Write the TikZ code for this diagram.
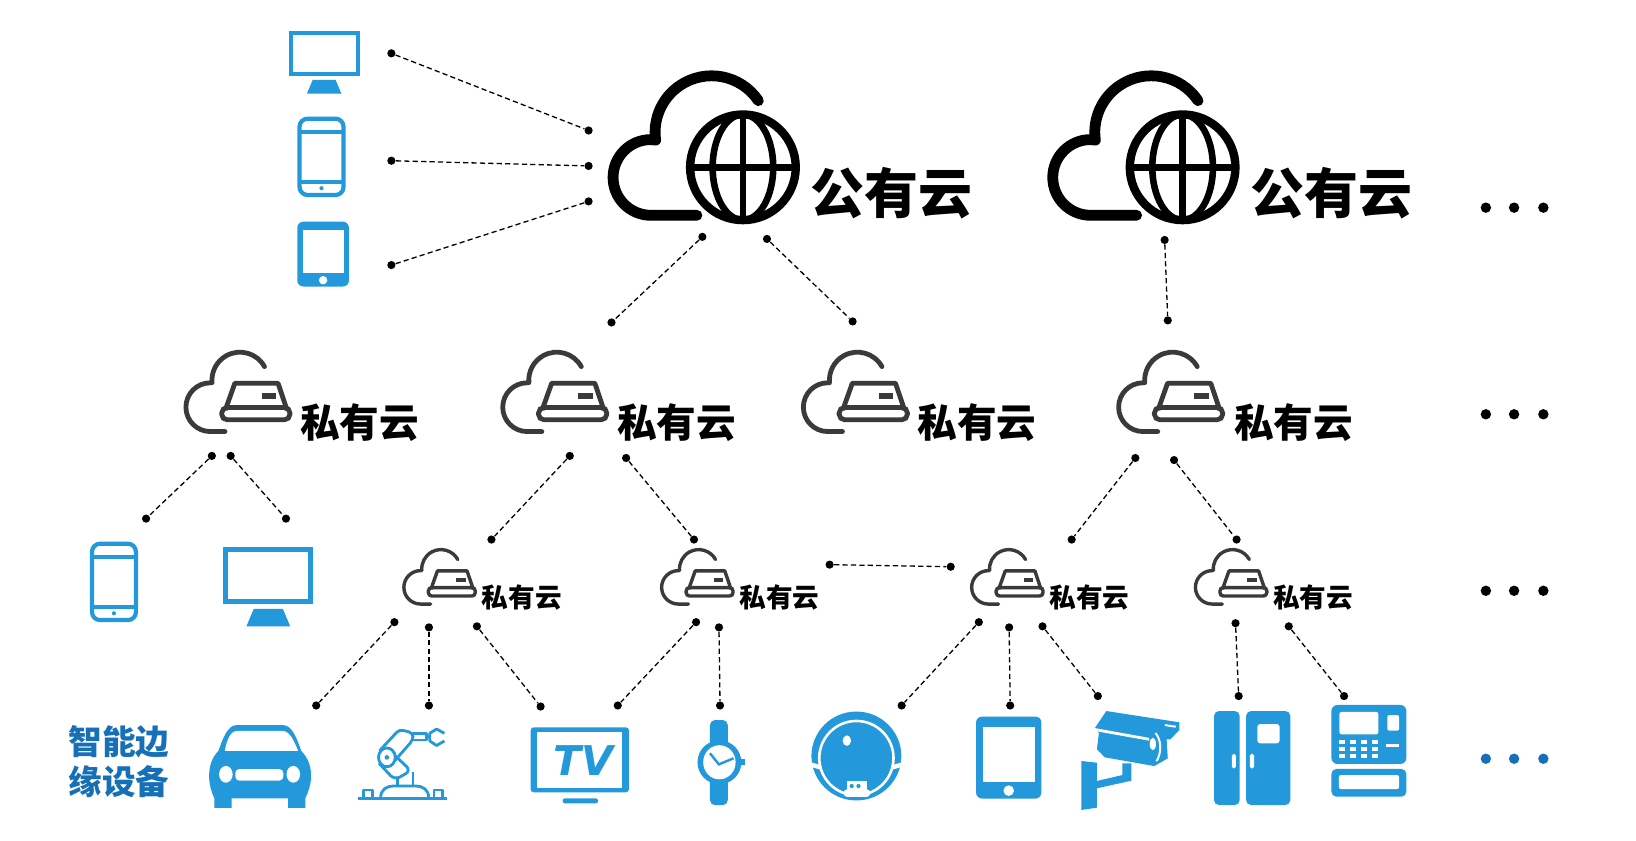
\documentclass[tikz,border=0pt]{standalone}
\usepackage{fontspec}
\newfontfamily\cjkfont{Noto Sans CJK SC}
\newfontfamily\tvfont{DejaVu Sans}
\definecolor{iconblue}{HTML}{2398DB}
\definecolor{labelblue}{HTML}{1570B8}
\definecolor{cloudgrey}{HTML}{3A3A3A}

\tikzset{
    dot/.style={fill, circle, inner sep=0pt, minimum size=4.1pt},
    link/.style={line width=0.65pt, dash pattern=on 2.6pt off 1.6pt},
    moredot/.style={fill, circle, inner sep=0pt, minimum size=5.2pt},
    pubtext/.style={font=\cjkfont\bfseries\fontsize{27}{29}\selectfont},
    privtext/.style={font=\cjkfont\bfseries\fontsize{19.8}{22}\selectfont},
    edgetext/.style={font=\cjkfont\bfseries\fontsize{13.3}{15}\selectfont},
    devtext/.style={text=labelblue, font=\cjkfont\bfseries\fontsize{16.8}{18}\selectfont},
    barcorner/.style={rounded corners=2.8pt},
    pubcloud/.pic={
        \draw[line width=5.4pt, line cap=round, line join=round] (-30,-33.5) ++(326:54) arc (326:172:54) -- (-88,-26.5) arc (270:90:36.2) -- (-44,45.9);
        \draw[line width=4.2pt] (0,0) circle[radius=50.5];
        \draw[line width=3.3pt] (0,0) ellipse[x radius=29, y radius=50.5];
        \draw[line width=3.3pt] (0,-50) -- (0,50);
        \draw[line width=3.3pt] (-50,0) -- (50,0);
    },
    privcloud/.pic={
        \draw[cloudgrey, line cap=round, line join=round] (-15,-20.4) ++(331:26.8) arc (331:175:26.8) -- (-43.4,-17.9) arc (270:90:23.3) -- (-29.3,28.7);
        \draw[cloudgrey, line join=round] (-29,8) -- (-19.9,-17.5) -- (21.4,-17.5) -- (30,8);
        \draw[cloudgrey, barcorner] (-32.5,5.7) rectangle (32.8,17.5);
        \fill[cloudgrey] (5.7,-8) rectangle (19.4,-2.5);
    },
    monitor/.pic={
        \fill[iconblue] (-34,-21.5) rectangle (34,21.5);
        \fill[white] (-30,-17.5) rectangle (30,17.5);
        \fill[iconblue] (-11,25.2) -- (11,25.2) -- (16.5,38.3) -- (-16.5,38.3) -- cycle;
    },
    phone/.pic={
        \draw[iconblue, line width=2.1pt, rounded corners=4pt] (-21,-36.5) rectangle (21,36.5);
        \draw[iconblue, line width=2.1pt] (-21,-24) -- (21,-24);
        \draw[iconblue, line width=2.1pt] (-21,23.7) -- (21,23.7);
        \fill[iconblue] (0,30) circle[radius=2];
    },
    pad/.pic={
        \fill[iconblue, rounded corners=3pt] (-24.7,-31) rectangle (24.7,31);
        \fill[white] (-19.7,-23) rectangle (19.7,18.4);
        \fill[white] (0,25) circle[radius=4];
    },
}

\begin{document}
\begin{tikzpicture}[x=0.52285pt, y=-0.52285pt]
    \useasboundingbox (0,0) rectangle (1564.6,803.4);

    % clouds
    \pic (cloudA) at (710.5,160) {pubcloud};
    \pic (cloudB) at (1131,160) {pubcloud};
    \node[pubtext] (pubA) at (852.5,184.6) {公有云};
    \node[pubtext] (pubB) at (1273.5,184.6) {公有云};

    \pic[line width=2.4pt] (privA) at (244.5,384) {privcloud};
    \pic[line width=2.4pt] (privB) at (547.5,384) {privcloud};
    \pic[line width=2.4pt] (privC) at (835,384) {privcloud};
    \pic[line width=2.4pt] (privD) at (1136.5,384) {privcloud};
    \node[privtext] (privtextA) at (344,404.5) {私有云};
    \node[privtext] (privtextB) at (647,404.5) {私有云};
    \node[privtext] (privtextC) at (934.5,404.5) {私有云};
    \node[privtext] (privtextD) at (1237,404.5) {私有云};

    \pic[scale=0.686, line width=1.7pt, barcorner/.style={rounded corners=1.7pt}] (edgeA) at (432,558) {privcloud};
    \pic[scale=0.686, line width=1.7pt, barcorner/.style={rounded corners=1.7pt}] (edgeB) at (678.5,558) {privcloud};
    \pic[scale=0.686, line width=1.7pt, barcorner/.style={rounded corners=1.7pt}] (edgeC) at (975,558) {privcloud};
    \pic[scale=0.686, line width=1.7pt, barcorner/.style={rounded corners=1.7pt}] (edgeD) at (1189,558) {privcloud};
    \node[edgetext] (edgetextA) at (499,571) {私有云};
    \node[edgetext] (edgetextB) at (745.5,571) {私有云};
    \node[edgetext] (edgetextC) at (1042,571) {私有云};
    \node[edgetext] (edgetextD) at (1255.6,571) {私有云};

    % connectors
    \node[dot] (desk1) at (374.3,51) {};
    \node[dot] (desk2) at (562.9,124.8) {};
    \draw[link] (desk1)--(desk2);
    \node[dot] (mob1) at (374.3,153.7) {};
    \node[dot] (mob2) at (562.9,158.7) {};
    \draw[link] (mob1)--(mob2);
    \node[dot] (tab1) at (374.3,253.5) {};
    \node[dot] (tab2) at (562.9,192.6) {};
    \draw[link] (tab1)--(tab2);

    \node[dot] (pubL1) at (671.7,226.5) {};
    \node[dot] (pubL2) at (584.8,308.4) {};
    \draw[link] (pubL1)--(pubL2);
    \node[dot] (pubR1) at (733.5,228.5) {};
    \node[dot] (pubR2) at (815.4,307.4) {};
    \draw[link] (pubR1)--(pubR2);
    \node[dot] (pubD1) at (1113.8,229.5) {};
    \node[dot] (pubD2) at (1116.8,306.4) {};
    \draw[link] (pubD1)--(pubD2);

    \node[dot] (privAL1) at (202.6,436) {};
    \node[dot] (privAL2) at (139.7,496) {};
    \draw[link] (privAL1)--(privAL2);
    \node[dot] (privAR1) at (220.6,436) {};
    \node[dot] (privAR2) at (273.5,496) {};
    \draw[link] (privAR1)--(privAR2);
    \node[dot] (privBL1) at (544.9,436) {};
    \node[dot] (privBL2) at (470,516) {};
    \draw[link] (privBL1)--(privBL2);
    \node[dot] (privBR1) at (598.8,438) {};
    \node[dot] (privBR2) at (663.7,516) {};
    \draw[link] (privBR1)--(privBR2);
    \node[dot] (privDL1) at (1085.8,438) {};
    \node[dot] (privDL2) at (1024.9,516) {};
    \draw[link] (privDL1)--(privDL2);
    \node[dot] (privDR1) at (1122.8,440) {};
    \node[dot] (privDR2) at (1182.6,516) {};
    \draw[link] (privDR1)--(privDR2);

    \node[dot] (peer1) at (793.4,540) {};
    \node[dot] (peer2) at (909.2,542) {};
    \draw[link] (peer1)--(peer2);

    \node[dot] (car1) at (377.2,595) {};
    \node[dot] (car2) at (302.4,674.7) {};
    \draw[link] (car1)--(car2);
    \node[dot] (arm1) at (410.2,600) {};
    \node[dot] (arm2) at (410.2,674.7) {};
    \draw[link] (arm1)--(arm2);
    \node[dot] (tvA1) at (456.1,599) {};
    \node[dot] (tvA2) at (517,675.7) {};
    \draw[link] (tvA1)--(tvA2);
    \node[dot] (tvB1) at (665.7,595) {};
    \node[dot] (tvB2) at (590.8,674.7) {};
    \draw[link] (tvB1)--(tvB2);
    \node[dot] (watch1) at (687.6,600) {};
    \node[dot] (watch2) at (688.6,674.7) {};
    \draw[link] (watch1)--(watch2);
    \node[dot] (robot1) at (936.1,595) {};
    \node[dot] (robot2) at (862.3,674.7) {};
    \draw[link] (robot1)--(robot2);
    \node[dot] (padB1) at (965.1,600) {};
    \node[dot] (padB2) at (966.1,674.7) {};
    \draw[link] (padB1)--(padB2);
    \node[dot] (cam1) at (997,599) {};
    \node[dot] (cam2) at (1049.9,665.7) {};
    \draw[link] (cam1)--(cam2);
    \node[dot] (fridge1) at (1181.6,596) {};
    \node[dot] (fridge2) at (1184.6,665.7) {};
    \draw[link] (fridge1)--(fridge2);
    \node[dot] (atm1) at (1232.5,599) {};
    \node[dot] (atm2) at (1285.4,665.7) {};
    \draw[link] (atm1)--(atm2);

    % ellipsis
    \foreach \name/\y in {a/198.6, b/396.2, c/565} {
        \node[moredot] (more\name1) at (1421,\y) {};
        \node[moredot] (more\name2) at (1448,\y) {};
        \node[moredot] (more\name3) at (1476,\y) {};
    }
    \node[moredot, labelblue] (mored1) at (1421,725.6) {};
    \node[moredot, labelblue] (mored2) at (1448,725.6) {};
    \node[moredot, labelblue] (mored3) at (1476,725.6) {};

    % upper and left devices
    \pic (monitorA) at (310,51.3) {monitor};
    \pic[scale=1.27] (monitorB) at (256.6,550.4) {monitor};
    \pic (phoneA) at (307.5,150) {phone};
    \pic (phoneB) at (109,556.5) {phone};
    \pic (padA) at (309,243) {pad};
    \pic[scale=1.265] (padB) at (964.7,724.5) {pad};

    \node[devtext] (devA) at (113.7,709.5) {智能边};
    \node[devtext] (devB) at (113.7,747.5) {缘设备};

    % car
    \fill[iconblue] (226,693.5) -- (271,693.5) .. controls (279,693.5) and (284,706) .. (288,718)
        .. controls (294,724) and (297.5,732) .. (297.5,742) .. controls (297.5,750) and (295,757) .. (292,763.5)
        -- (292,772.5) -- (275.5,772.5) -- (275.5,763.5) -- (221.5,763.5) -- (221.5,772.5) -- (205,772.5) -- (205,763.5)
        .. controls (202,757) and (200,750) .. (200,742) .. controls (200,732) and (203,724) .. (209,718)
        .. controls (213,706) and (218,693.5) .. (226,693.5) -- cycle;
    \fill[white] (227,699) -- (270,699) .. controls (277,699) and (281,708) .. (285,718) -- (215,718) .. controls (217,708) and (220,699) .. (227,699) -- cycle;
    \fill[white] (216,740.5) ellipse[x radius=6.5, y radius=8];
    \fill[white] (280.5,740.5) ellipse[x radius=6.5, y radius=8];
    \fill[white, rounded corners=2pt] (225,735.5) rectangle (271,746.5);

    % robot arm
    \begin{scope}[iconblue, line width=1.4pt, line join=round]
        \draw[line width=1.7pt] (342.5,763.5) -- (427.5,763.5);
        \draw (347.5,762) -- (347.5,755.5) -- (356,755.5) -- (356,762);
        \draw (415,762) -- (415,755.5) -- (423.5,755.5) -- (423.5,762);
        \draw (364,763) .. controls (364,755) and (370,751.7) .. (376,751.7) -- (398,751.7) .. controls (404,751.7) and (410,755) .. (410,763);
        \draw (380,744) -- (380,751.7);
        \draw (395,738) -- (395,751.7);
        \draw[rounded corners=3pt] (362.5,730) -- (377.5,746) -- (393,737) -- (376,721);
        \draw[rounded corners=2pt] (363,718) -- (382,697.5) -- (395,701) -- (395,707.5) -- (378,727);
        \draw[fill=white] (370,724.3) ellipse[x radius=8, y radius=9];
        \fill (370,724.3) circle[radius=2.2];
        \draw (395,701.3) rectangle (407.5,707.7);
        \draw (407.5,704.5) -- (411,704.5);
        \draw (425,701.3) -- (417.5,697.2) -- (411,701.3) -- (411,708.6) -- (417.5,713) -- (425,708.6);
    \end{scope}

    % tv
    \fill[iconblue, rounded corners=1.5pt] (507.5,695.6) rectangle (601.5,757.7);
    \fill[white] (513.5,699.7) rectangle (595,753.9);
    \fill[iconblue, rounded corners=1.2pt] (538,763.5) rectangle (572,768.3);
    \node[text=iconblue, font=\tvfont\bfseries\itshape\fontsize{20.5}{22}\selectfont, inner sep=0pt] (tvtext) at (558,727.7) {TV};

    % watch
    \fill[iconblue, rounded corners=2.5pt] (679,688.6) rectangle (696,770);
    \fill[iconblue] (709,726) rectangle (712.5,731.6);
    \fill[iconblue] (688,729) circle[radius=21];
    \fill[white] (688,729) ellipse[x radius=15.5, y radius=16.3];
    \draw[iconblue, line width=1.2pt] (679,720.4) -- (687.5,731) -- (701.5,725.2);

    % robot vacuum
    \fill[iconblue] (819,723) ellipse[x radius=43, y radius=42.5];
    \draw[white, line width=1.3pt] (819,725) circle[radius=35.5];
    \draw[white, line width=2.2pt] (775,731) -- (785,734);
    \draw[white, line width=2.2pt] (853,734) -- (863,731);
    \fill[white] (809.9,708.3) ellipse[x radius=4, y radius=5];
    \fill[white] (810,747) rectangle (829,756);
    \fill[white, rounded corners=1.5pt] (807,755) rectangle (832,762);
    \fill[iconblue] (814.5,751.7) circle[radius=2];
    \fill[iconblue] (821,751.7) circle[radius=2];

    % camera
    \fill[iconblue] (1034.2,727.8) -- (1049,729.4) -- (1049,772.4) -- (1034.2,774.6) -- cycle;
    \fill[iconblue] (1049,746.9) -- (1073.4,741.2) -- (1073.4,730) -- (1082,730) -- (1082,746.6) -- (1049,753.9) -- cycle;
    \fill[iconblue] (1058,680) -- (1128,690.8) -- (1128,698) -- (1119.3,707) -- (1115.7,707) -- (1116.8,725.2) -- (1104,732.6)
        -- (1056.6,724.3) -- (1049,716.6) -- (1051,701) -- (1047,696.5) -- cycle;
    \draw[white, line width=1.4pt] (1046,697.5) -- (1099,707);
    \fill[white] (1102.5,711.5) ellipse[x radius=3, y radius=6];
    \draw[white, line width=1pt] (1105,701) .. controls (1111,708) and (1111,720) .. (1106,728);
    \draw[white, line width=1pt] (1114,693.4) -- (1124.4,695);

    % fridge
    \fill[iconblue, rounded corners=2.5pt] (1161,680) rectangle (1185.6,769.9);
    \fill[iconblue, rounded corners=2.5pt] (1191.7,680) rectangle (1234,769.9);
    \fill[white, rounded corners=0.8pt] (1178,721) rectangle (1182,734.8);
    \fill[white, rounded corners=0.8pt] (1195.3,721) rectangle (1199.4,734.8);
    \fill[white, rounded corners=1.5pt] (1202.4,692.4) rectangle (1223.8,710.9);

    % card machine
    \fill[iconblue, rounded corners=3pt] (1273.3,674.2) rectangle (1345,730.6);
    \fill[iconblue, rounded corners=2.5pt] (1273.3,735.4) rectangle (1345,761.9);
    \fill[white, rounded corners=1pt] (1281,680.9) rectangle (1318.1,702.3);
    \fill[white, rounded corners=1pt] (1326.8,683.8) rectangle (1338,698.8);
    \fill[white, rounded corners=1pt] (1280.4,741.2) rectangle (1338,754.6);
    \fill[white] (1325.8,711.5) rectangle (1338,714);
    \foreach \kx in {1283.5,1294,1304.4,1315} {
        \foreach \ky in {709.6,716.3,722.7} {
            \fill[white] (\kx-3,\ky-1.8) rectangle (\kx+3,\ky+1.8);
        }
    }

\end{tikzpicture}
\end{document}
